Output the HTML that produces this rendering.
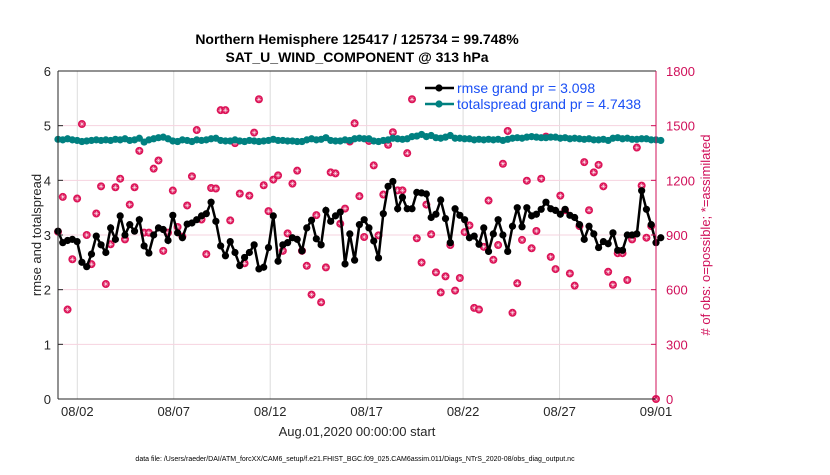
<!DOCTYPE html>
<html><head><meta charset="utf-8"><style>
body{margin:0;background:#fff;font-family:"Liberation Sans",sans-serif}
</style></head><body>
<svg id="chart" width="830" height="470" xmlns="http://www.w3.org/2000/svg" font-family="Liberation Sans, sans-serif">
<rect width="830" height="470" fill="#fff"/>
<g id="grid"></g>
<g id="marks"></g>
<g id="axes"></g>
</svg>
<script>
const dateLabels=["08/02","08/07","08/12","08/17","08/22","08/27","09/01"];
const dateDays=[1,6,11,16,21,26,31];
const leftTicks=[0,1,2,3,4,5,6];
const rightTicks=[0,300,600,900,1200,1500,1800];
const rmse=[3.07,2.86,2.9,2.92,2.88,2.5,2.42,2.65,2.98,2.82,2.68,3.13,2.92,3.35,3.0,3.19,3.07,3.28,2.8,2.67,3.0,3.13,3.1,2.9,3.36,3.04,2.95,3.2,3.22,3.28,3.35,3.39,3.6,
3.25,2.8,2.62,2.88,2.68,2.44,2.59,2.68,2.82,2.38,2.41,2.77,3.35,2.52,2.82,2.86,2.95,2.92,2.71,3.13,3.27,2.93,2.82,3.45,3.25,3.35,3.42,2.47,3.02,2.54,3.19,3.28,
3.13,2.89,2.58,3.39,3.89,3.98,3.48,3.69,3.48,3.48,3.78,3.77,3.75,3.32,3.38,3.64,3.3,2.86,3.48,3.36,3.28,2.95,2.98,2.83,3.13,2.7,3.02,3.28,3.0,2.7,3.16,3.5,
3.15,3.5,3.35,3.38,3.47,3.6,3.48,3.45,3.38,3.47,3.36,3.32,3.19,2.92,3.16,3.02,2.77,2.88,2.84,3.04,2.72,2.72,3.0,3.0,3.02,3.81,3.47,3.19,2.86,2.95];
const spread=[4.75,4.74,4.76,4.74,4.73,4.71,4.72,4.73,4.74,4.73,4.74,4.73,4.75,4.74,4.76,4.73,4.74,4.77,4.7,4.74,4.76,4.78,4.79,4.76,4.72,4.71,4.74,4.73,4.71,4.74,4.73,4.74,4.76,
4.77,4.73,4.72,4.72,4.74,4.72,4.71,4.73,4.72,4.71,4.72,4.73,4.75,4.73,4.73,4.72,4.72,4.71,4.71,4.74,4.76,4.74,4.75,4.78,4.73,4.72,4.72,4.74,4.73,4.76,4.77,4.76,
4.76,4.72,4.71,4.73,4.74,4.77,4.76,4.75,4.76,4.8,4.81,4.84,4.8,4.82,4.78,4.77,4.79,4.82,4.77,4.77,4.76,4.76,4.74,4.75,4.74,4.75,4.74,4.75,4.73,4.75,4.77,4.78,
4.77,4.79,4.8,4.79,4.78,4.78,4.79,4.79,4.77,4.78,4.76,4.77,4.76,4.75,4.76,4.74,4.74,4.75,4.73,4.77,4.78,4.76,4.77,4.75,4.75,4.76,4.76,4.74,4.74,4.73];
const obsCount=[918,1109,491,767,1100,1509,900,740,1018,1167,631,849,1162,1209,876,1067,1162,1362,913,913,1264,1309,813,913,1144,944,891,1062,1222,1476,985,795,1158,
1155,1585,1585,980,1404,1127,745,1116,1462,1645,1173,1031,1204,1227,813,909,1182,1253,813,731,573,1009,531,722,1244,1238,962,1045,1413,1513,1113,889,
1416,1282,898,1122,1395,1464,1145,1145,1349,1645,882,749,1067,904,695,585,673,845,595,664,916,953,500,491,835,1089,764,845,1291,1471,473,
635,873,1198,827,922,1209,1440,780,713,1116,1036,689,622,949,1300,1036,1244,1285,1167,698,627,800,800,653,876,1380,1171,885,949];
const stepDays=0.248;

const NS="http://www.w3.org/2000/svg";
const X0=58,X1=656,Y0=399,Y1=71;
const xs=d=>X0+(d/31)*(X1-X0);
const yl=v=>Y0-(v/6)*(Y0-Y1);
const yr=v=>Y0-(v/1800)*(Y0-Y1);
function mk(tag,attrs,parent,text){const e=document.createElementNS(NS,tag);for(const k in attrs)e.setAttribute(k,attrs[k]);if(text!==undefined)e.textContent=text;parent.appendChild(e);return e;}
const grid=document.getElementById('grid'),marks=document.getElementById('marks'),axes=document.getElementById('axes');

dateDays.forEach((d,i)=>{
  const g=mk('line',{x1:xs(d),x2:xs(d),y1:Y1,y2:Y0,stroke:'#dcdcdc','stroke-width':1},grid);
  
  
  const t=mk('text',{x:xs(d),y:416,'text-anchor':'middle','font-size':13,fill:'#262626'},axes,dateLabels[i]);
  
  
});
rightTicks.forEach(v=>{
  const g=mk('line',{x1:X0,x2:X1,y1:yr(v),y2:yr(v),stroke:'#f6d3df','stroke-width':1},grid);
  
  
  const t=mk('text',{x:666,y:yr(v)+5,'font-size':13,fill:'#d0105a'},axes,String(v));
  
  
  mk('line',{x1:X1-5,x2:X1,y1:yr(v),y2:yr(v),stroke:'#d0105a'},axes);
});
leftTicks.forEach(v=>{
  const t=mk('text',{x:51,y:yl(v)+5,'text-anchor':'end','font-size':13,fill:'#262626'},axes,String(v));
  
  
  mk('line',{x1:X0,x2:X0+5,y1:yl(v),y2:yl(v),stroke:'#262626'},axes);
});

function obsMarker(cx,cy){
  const g=mk('g',{},marks);
  
  
  mk('circle',{cx,cy,r:4,fill:'#dc1458'},g);
  const s=2.4;
  mk('path',{d:`M${cx-s} ${cy}H${cx+s}M${cx} ${cy-s}V${cy+s}M${cx-1.7} ${cy-1.7}L${cx+1.7} ${cy+1.7}M${cx-1.7} ${cy+1.7}L${cx+1.7} ${cy-1.7}`,stroke:'#fff','stroke-width':0.5},g);
}
obsCount.forEach((c,i)=>obsMarker(xs(i*stepDays),yr(c)));
obsMarker(xs(31),yr(0));

function series(vals,color,name){
  const pts=vals.map((v,i)=>xs(i*stepDays).toFixed(1)+','+yl(v).toFixed(1)).join(' ');
  const l=mk('polyline',{points:pts,fill:'none',stroke:color,'stroke-width':2.5},marks);
  
  
  vals.forEach((v,i)=>{
    const c=mk('circle',{cx:xs(i*stepDays),cy:yl(v),r:3.6,fill:color},marks);
    
    
  });
}
series(spread,'#008080','totalspread');
series(rmse,'#000','rmse');

mk('line',{x1:X0,x2:X0,y1:Y1,y2:Y0,stroke:'#262626'},axes);
mk('line',{x1:X0,x2:X1,y1:Y0,y2:Y0,stroke:'#262626'},axes);
mk('line',{x1:X0,x2:X1,y1:Y1,y2:Y1,stroke:'#262626'},axes);
mk('line',{x1:X1,x2:X1,y1:Y1,y2:Y0,stroke:'#d0105a'},axes);
</script>
<svg style="position:absolute;left:0;top:0" width="830" height="470">
<g>
<line x1="425" y1="88" x2="454" y2="88" stroke="#000" stroke-width="2.5"/><circle cx="439" cy="88" r="3.6" fill="#000"/>
<text x="457" y="93" font-size="14" fill="#1a4ff5" font-family="Liberation Sans, sans-serif">rmse grand pr = 3.098</text></g>
<g>
<line x1="425" y1="104" x2="454" y2="104" stroke="#008080" stroke-width="2.5"/><circle cx="439" cy="104" r="3.6" fill="#008080"/>
<text x="457" y="109" font-size="14" fill="#1a4ff5" font-family="Liberation Sans, sans-serif">totalspread grand pr = 4.7438</text></g>
<text x="357" y="44" text-anchor="middle" font-size="14" font-weight="bold" fill="#000" font-family="Liberation Sans, sans-serif">Northern Hemisphere 125417 / 125734 = 99.748%</text>
<text x="357" y="62" text-anchor="middle" font-size="14" font-weight="bold" fill="#000" font-family="Liberation Sans, sans-serif">SAT_U_WIND_COMPONENT @ 313 hPa</text>
<text x="357" y="436" text-anchor="middle" font-size="13" fill="#262626" font-family="Liberation Sans, sans-serif">Aug.01,2020 00:00:00 start</text>
<text transform="translate(41,235) rotate(-90)" text-anchor="middle" font-size="13" fill="#262626" font-family="Liberation Sans, sans-serif">rmse and totalspread</text>
<text transform="translate(710,235) rotate(-90)" text-anchor="middle" font-size="13" fill="#d0105a" font-family="Liberation Sans, sans-serif"># of obs: o=possible; *=assimilated</text>
<text x="355" y="461" text-anchor="middle" font-size="7" fill="#000" font-family="Liberation Sans, sans-serif">data file: /Users/raeder/DAI/ATM_forcXX/CAM6_setup/f.e21.FHIST_BGC.f09_025.CAM6assim.011/Diags_NTrS_2020-08/obs_diag_output.nc</text>
</svg>
</body></html>
